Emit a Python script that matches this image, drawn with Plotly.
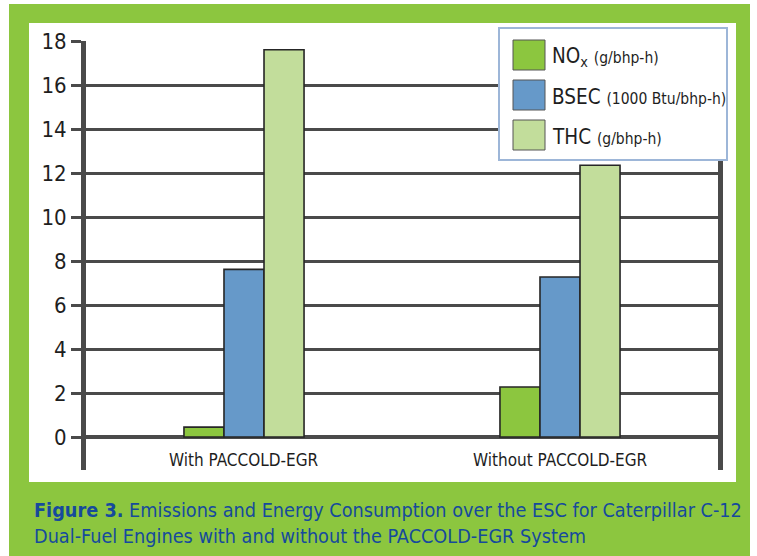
import plotly.graph_objects as go

categories = ["With PACCOLD-EGR", "Without PACCOLD-EGR"]
nox = [0.45, 2.27]
bsec = [7.62, 7.27]
thc = [17.6, 12.35]
series_names = ["NOx (g/bhp-h)", "BSEC (1000 Btu/bhp-h)", "THC (g/bhp-h)"]
legend_main = ["NO<sub>x</sub>", "BSEC", "THC"]
legend_unit = ["(g/bhp-h)", "(1000 Btu/bhp-h)", "(g/bhp-h)"]
tick_vals = [0, 2, 4, 6, 8, 10, 12, 14, 16, 18]
caption = ("<b>Figure 3.</b> Emissions and Energy Consumption over the ESC for Caterpillar C-12"
           "<br>Dual-Fuel Engines with and without the PACCOLD-EGR System")

W, H = 757, 556
L, R, T, B = 86, 39, 41, 86
PW, PH = W - L - R, H - T - B

def px(X):
    return (X - L) / PW

def py(Y):
    return (H - B - Y) / PH

FONT = "DejaVu Sans Condensed, Liberation Sans Narrow, Arial Narrow, sans-serif"
GREEN = "#8cc63f"
BLUE = "#6699c9"
LIGHT = "#c2dd9b"
GRID = "#4a4a4a"
CAP = "#164a9c"
colors = [GREEN, BLUE, LIGHT]

fig = go.Figure()
for name, vals, col in zip(series_names, [nox, bsec, thc], colors):
    fig.add_trace(go.Bar(x=categories, y=vals, name=name, marker_color=col,
                         marker_line=dict(color="#262626", width=1.6), showlegend=False))

shapes = [
    dict(type="rect", xref="paper", yref="paper", x0=px(9), x1=px(750), y0=py(4), y1=py(566),
         fillcolor=GREEN, line_width=0, layer="below"),
    dict(type="rect", xref="paper", yref="paper", x0=px(29), x1=px(736), y0=py(23), y1=py(482),
         fillcolor="white", line_width=0, layer="below"),
    dict(type="rect", xref="paper", yref="paper", x0=px(499), x1=px(727), y0=py(28), y1=py(160),
         fillcolor="white", line=dict(color="#9db6d8", width=2), layer="above"),
]
annotations = []
sw_y = [40, 80, 120]
for i, (col, m, u) in enumerate(zip(colors, legend_main, legend_unit)):
    y0 = sw_y[i]
    shapes.append(dict(type="rect", xref="paper", yref="paper", x0=px(513), x1=px(545),
                       y0=py(y0), y1=py(y0 + 30), fillcolor=col,
                       line=dict(color="#555555", width=1), layer="above"))
    annotations.append(dict(xref="paper", yref="paper", x=px(550), y=py(y0 + 17),
                            xanchor="left", yanchor="middle", showarrow=False,
                            text=f"{m} <span style='font-size:15.5px'>{u}</span>",
                            font=dict(family=FONT, size=20.5, color="#1e1e1e")))

for c in categories:
    annotations.append(dict(xref="x", yref="y", x=c, y=-1.05, xanchor="center", yanchor="middle",
                            showarrow=False, text=c, font=dict(family=FONT, size=17, color="#1e1e1e")))

annotations.append(dict(xref="paper", yref="paper", x=px(32), y=py(497), xanchor="left", yanchor="top",
                        align="left", showarrow=False, text=caption,
                        font=dict(family=FONT, size=19.7, color=CAP)))

fig.update_layout(
    width=W, height=H, margin=dict(l=L, r=R, t=T, b=B, autoexpand=False),
    paper_bgcolor="white", plot_bgcolor="white",
    barmode="group", bargap=0.62, bargroupgap=0,
    shapes=shapes, annotations=annotations,
    font=dict(family=FONT, color="#1e1e1e"),
)
fig.update_xaxes(showticklabels=False, showgrid=False, showline=False, zeroline=False, ticks="")
fig.update_yaxes(range=[-1.5, 18], tickvals=tick_vals, showgrid=True, gridcolor=GRID, gridwidth=3,
                 zeroline=True, zerolinecolor=GRID, zerolinewidth=3.5,
                 showline=True, linecolor=GRID, linewidth=5, mirror=True,
                 ticks="outside", ticklen=10, tickwidth=3, tickcolor=GRID,
                 tickfont=dict(family=FONT, size=22, color="#1e1e1e"))

fig.write_html("out.html")
